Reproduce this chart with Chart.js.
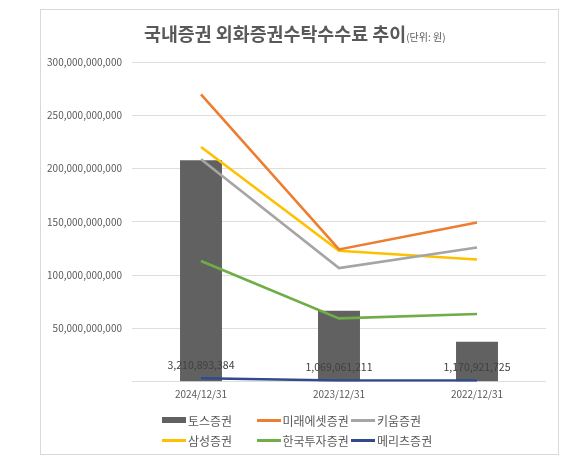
<!DOCTYPE html>
<html>
<head>
<meta charset="utf-8">
<script src="https://cdn.jsdelivr.net/npm/chart.js@4.4.1/dist/chart.umd.min.js"></script>
<style>
  body { margin: 0; background: #fff; font-family: "Noto Sans CJK KR", "Noto Sans", sans-serif; }
  #wrap { position: relative; width: 580px; height: 474px; overflow: hidden; }
  #box { position: absolute; left: 40px; top: 9px; width: 517px; height: 444px; border: 1px solid #d9d9d9; }
  #title { position: absolute; left: 144px; top: 19px; color: #595959; white-space: nowrap; line-height: 28px; }
  #title .main { font-size: 18.4px; font-weight: bold; }
  #title .unit { font-size: 10px; }
  #chartBox { position: absolute; left: 41px; top: 10px; width: 517px; height: 444px; }
  .leg { position: absolute; height: 16px; display: flex; align-items: center; font-size: 12px; color: #595959; white-space: nowrap; }
  .leg .sw { width: 24px; margin-right: 2px; }
</style>
</head>
<body>
<div id="wrap">
  <div id="box"></div>
  <div id="chartBox"><canvas id="feeChart"></canvas></div>
  <div id="title"><span class="main">국내증권 외화증권수탁수수료 추이</span><span class="unit">(단위: 원)</span></div>
  <div id="legend"></div>
</div>
<script>
// 기준일
const dates = ['2024/12/31', '2023/12/31', '2022/12/31'];

// 증권사별 외화증권수탁수수료 (원)
const tossValues = [207800000000, 66600000000, 37500000000];
const miraeValues = [269700000000, 124100000000, 149400000000];
const kiwoomValues = [208800000000, 106600000000, 126000000000];
const samsungValues = [220300000000, 122800000000, 114700000000];
const koreaInvValues = [113200000000, 59400000000, 63500000000];
const meritzValues = [3210893384, 1069061211, 1170921725];

// y축 눈금
const yTicks = [0, 50000000000, 100000000000, 150000000000, 200000000000, 250000000000, 300000000000];

const tickFont = { family: '"Noto Sans CJK KR", "Noto Sans", sans-serif', size: 10 };

function lineSet(label, values, color) {
    return {
        type: 'line',
        label: label,
        data: values,
        borderColor: color,
        backgroundColor: color,
        borderWidth: 2.6,
        pointRadius: 0,
        tension: 0,
        order: 0
    };
}

// 메리츠증권 값 라벨
const meritzLabels = {
    id: 'meritzLabels',
    afterDatasetsDraw(chart) {
        var ctx = chart.ctx;
        var meta = chart.getDatasetMeta(5);
        ctx.save();
        ctx.font = '10.5px "Noto Sans CJK KR", "Noto Sans", sans-serif';
        ctx.fillStyle = '#404040';
        ctx.textAlign = 'center';
        ctx.textBaseline = 'middle';
        meta.data.forEach(function (pt, i) {
            ctx.fillText(meritzValues[i].toLocaleString('en-US'), pt.x, pt.y - 13.5);
        });
        ctx.restore();
    }
};

function drawChart() {
    var ctx = document.getElementById('feeChart').getContext('2d');
    var chart = new Chart(ctx, {
        data: {
            labels: dates,
            datasets: [
                {
                    type: 'bar',
                    label: '토스증권',
                    data: tossValues,
                    backgroundColor: '#616161',
                    categoryPercentage: 1,
                    barPercentage: 0.304,
                    order: 1
                },
                lineSet('미래에셋증권', miraeValues, '#ED7D31'),
                lineSet('키움증권', kiwoomValues, '#A5A5A5'),
                lineSet('삼성증권', samsungValues, '#FFC000'),
                lineSet('한국투자증권', koreaInvValues, '#70AD47'),
                lineSet('메리츠증권', meritzValues, '#2F4B8C')
            ]
        },
        options: {
            responsive: true,
            maintainAspectRatio: false,
            animation: false,
            layout: { padding: { top: 52, right: 12, bottom: 50.3, left: 0 } },
            plugins: {
                legend: { display: false },
                title: { display: false },
                tooltip: { enabled: false }
            },
            scales: {
                x: {
                    grid: { display: false, drawTicks: false },
                    border: { display: false },
                    ticks: { color: '#595959', font: tickFont, padding: 7, maxRotation: 0 },
                    afterFit: function (scale) { scale.height = 22; }
                },
                y: {
                    min: 0,
                    max: 300000000000,
                    afterBuildTicks: function (scale) {
                        scale.ticks = yTicks.map(function (v) { return { value: v }; });
                    },
                    grid: { color: '#dedede', drawTicks: false },
                    border: { display: false },
                    ticks: {
                        color: '#595959',
                        font: tickFont,
                        padding: 10,
                        callback: function (v) { return v === 0 ? '' : v.toLocaleString('en-US'); }
                    },
                    afterFit: function (scale) { scale.width = 91; }
                }
            }
        },
        plugins: [meritzLabels]
    });
    return chart;
}

function buildLegend(chart) {
    var legend = document.getElementById('legend');
    chart.data.datasets.forEach(function (ds, i) {
        var col = i % 3;
        var row = Math.floor(i / 3);
        var item = document.createElement('div');
        item.className = 'leg';
        item.style.left = (162 + col * 94.5) + 'px';
        item.style.top = (412 + row * 20) + 'px';
        var sw = document.createElement('span');
        sw.className = 'sw';
        sw.style.height = (ds.type === 'bar' ? 6 : 3) + 'px';
        sw.style.background = ds.type === 'bar' ? ds.backgroundColor : ds.borderColor;
        var txt = document.createElement('span');
        txt.textContent = ds.label;
        item.appendChild(sw);
        item.appendChild(txt);
        legend.appendChild(item);
    });
}

var feeChart = drawChart();
buildLegend(feeChart);
</script>
</body>
</html>
